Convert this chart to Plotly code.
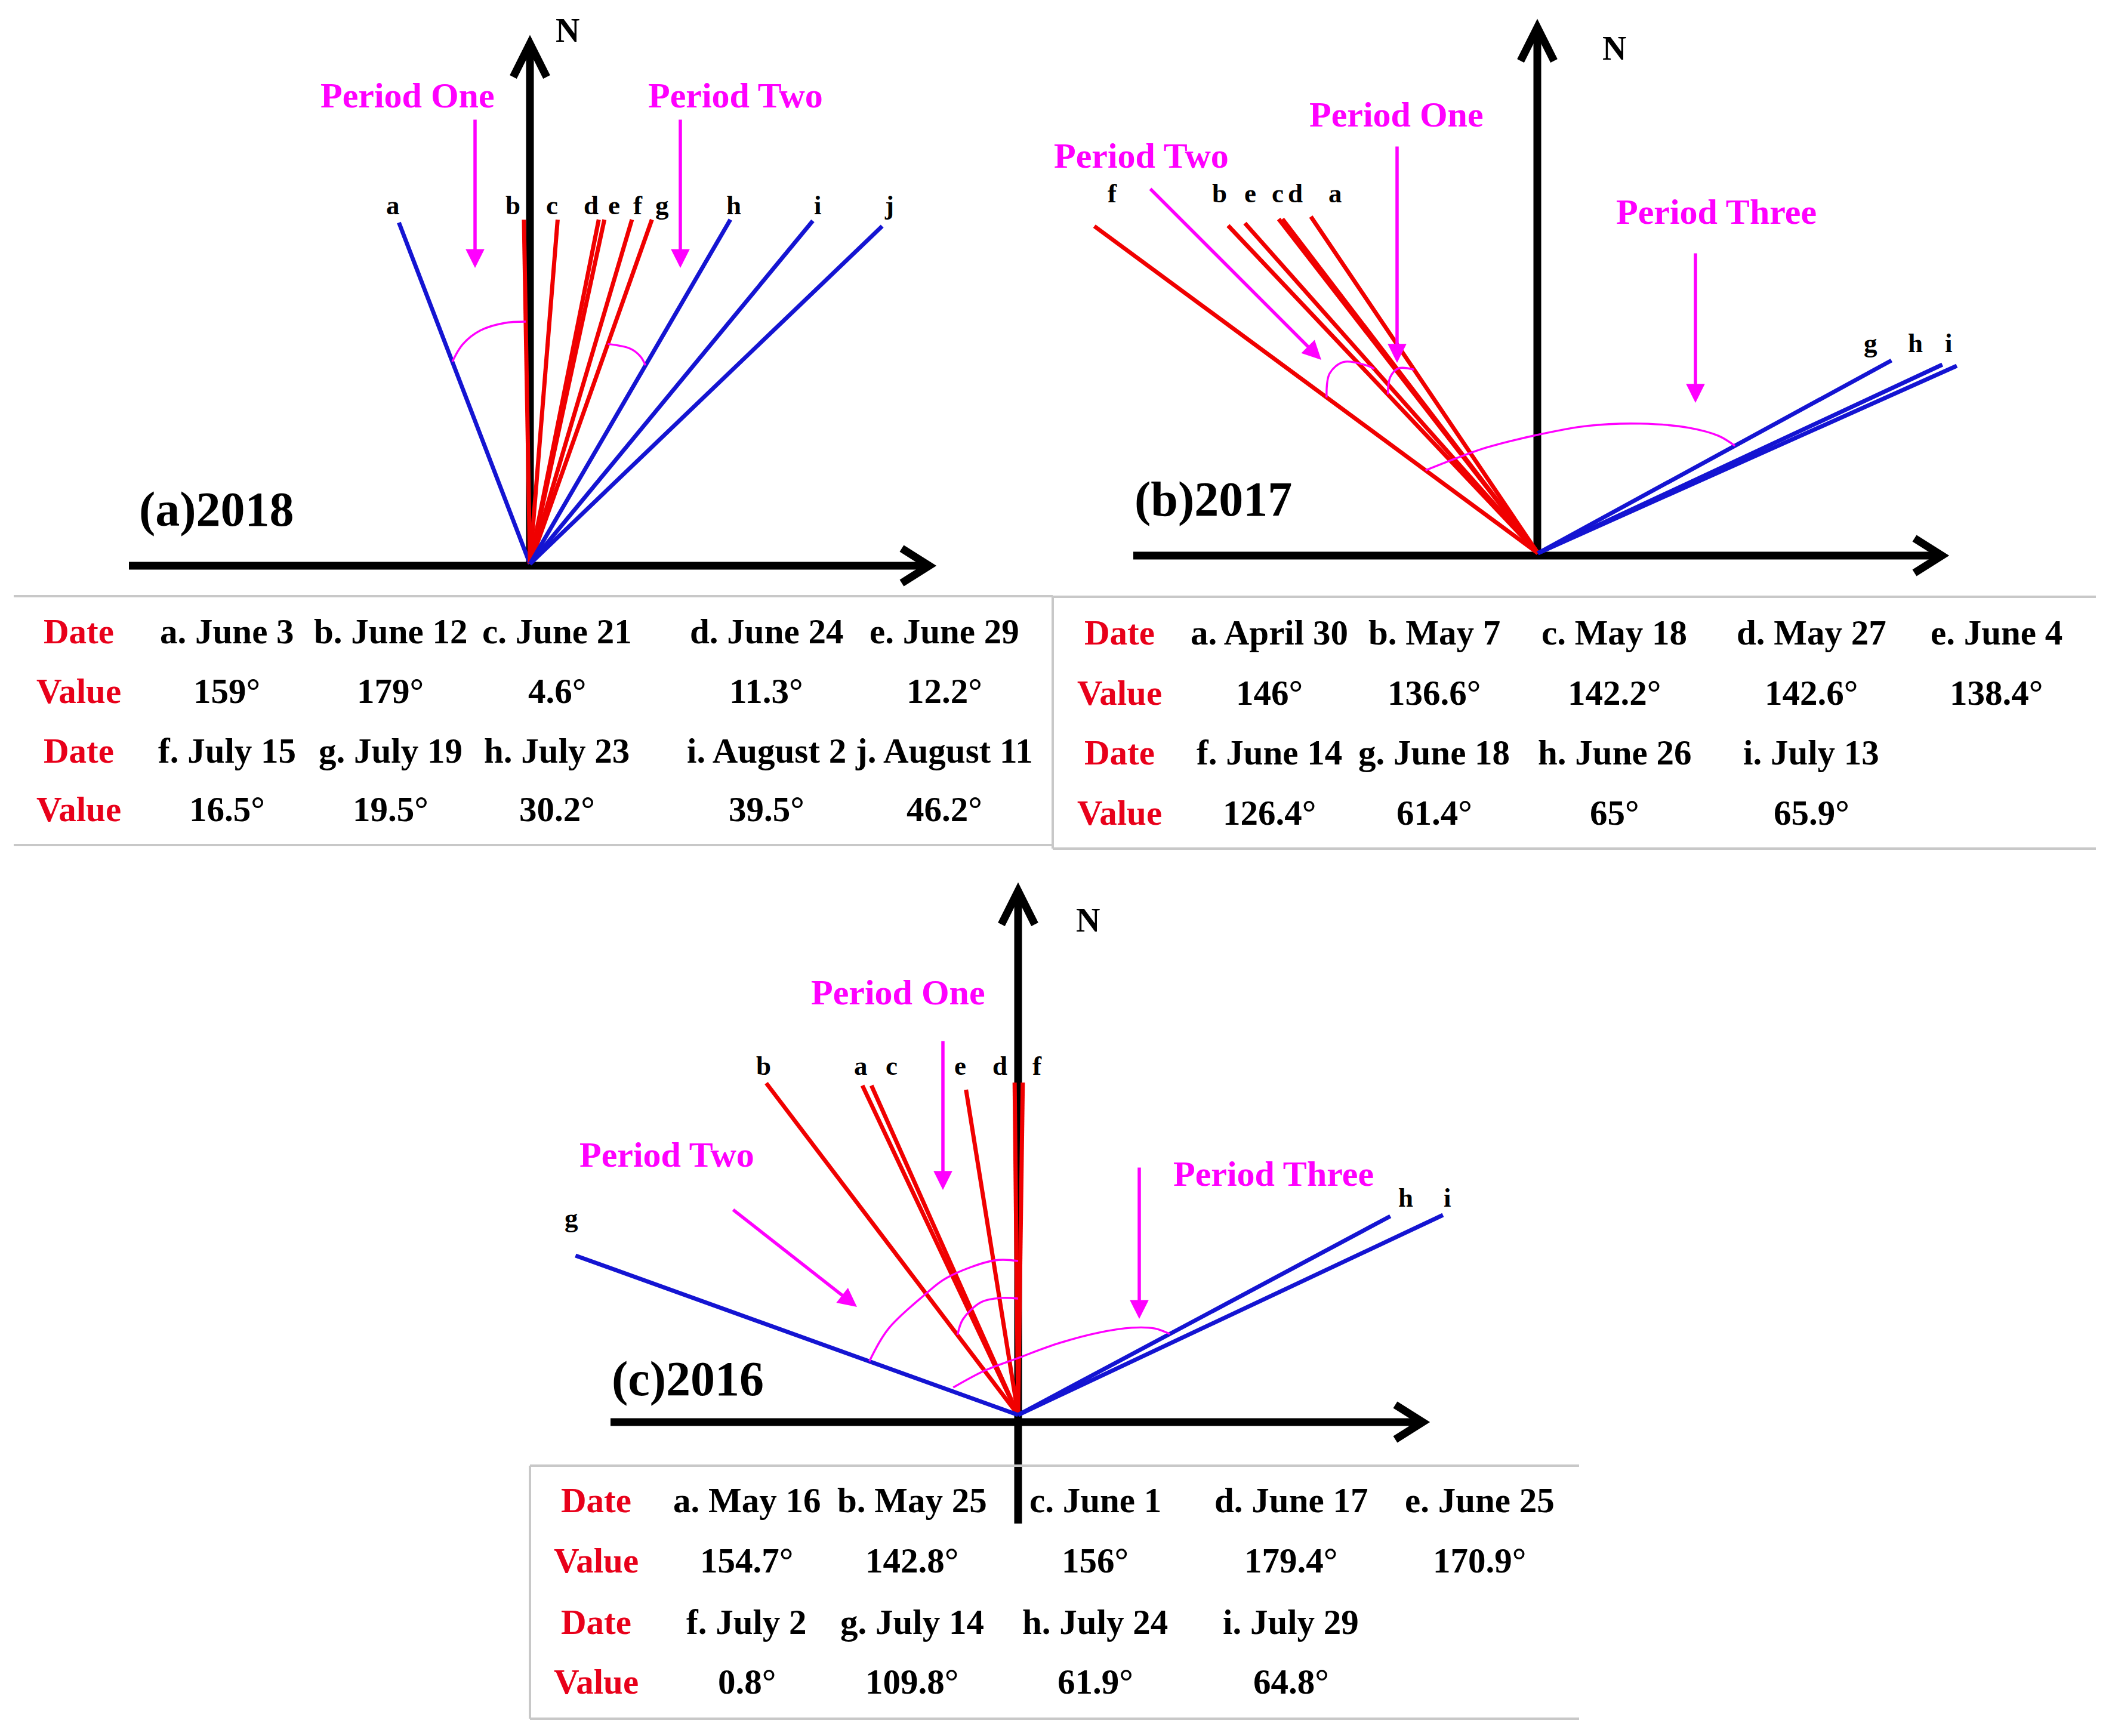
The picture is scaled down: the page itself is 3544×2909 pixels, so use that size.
import math
import plotly.graph_objects as go

W, H = 3544, 2909
PAGE_OFF = 8  # default page body margin of the html output

# ---------------- data ----------------
# (a) 2018
a_letters = ["a", "b", "c", "d", "e", "f", "g", "h", "i", "j"]
a_dates = ["June 3", "June 12", "June 21", "June 24", "June 29",
           "July 15", "July 19", "July 23", "August 2", "August 11"]
a_values = [159, 179, 4.6, 11.3, 12.2, 16.5, 19.5, 30.2, 39.5, 46.2]
a_group = ["blue", "red", "red", "red", "red", "red", "red", "blue", "blue", "blue"]

# (b) 2017
b_letters = ["a", "b", "c", "d", "e", "f", "g", "h", "i"]
b_dates = ["April 30", "May 7", "May 18", "May 27", "June 4",
           "June 14", "June 18", "June 26", "July 13"]
b_values = [146, 136.6, 142.2, 142.6, 138.4, 126.4, 61.4, 65, 65.9]
b_group = ["red", "red", "red", "red", "red", "red", "blue", "blue", "blue"]

# (c) 2016
c_letters = ["a", "b", "c", "d", "e", "f", "g", "h", "i"]
c_dates = ["May 16", "May 25", "June 1", "June 17", "June 25",
           "July 2", "July 14", "July 24", "July 29"]
c_values = [154.7, 142.8, 156, 179.4, 170.9, 0.8, 109.8, 61.9, 64.8]
c_group = ["red", "red", "red", "red", "red", "red", "blue", "blue", "blue"]

# ---------------- styles / layout ----------------
FONT = "Liberation Serif, Times New Roman, serif"
RED = "#f00000"
BLUE = "#1414d2"
MAG = "#ff00ff"
TRED = "#e8001a"
GRID = "#c8c8c8"
COLORS = {"red": RED, "blue": BLUE}

panels = [
    dict(title="(a)2018", letters=a_letters, dates=a_dates, values=a_values, group=a_group,
         origin=(888, 945),
         heights=[572, 577, 577, 577, 577, 577, 577, 577, 575, 566],
         label_x=[658, 859, 925, 990, 1029, 1069, 1109, 1229, 1370, 1490],
         label_y=[344] * 10,
         vaxis=(888, 73, 950), haxis=(948, 216, 1557),
         north=(951, 51), title_pos=(363, 853),
         periods=[("Period One", (683, 160), (796, 199), (796, 449)),
                  ("Period Two", (1232, 160), (1140, 199), (1140, 449))],
         arcs=[[(-21, 363), (-17, 385), (-12, 400), (-6, 406), (-1, 406)],
               [(19.5, 391), (25, 398), (28, 394), (30.2, 385)]],
         table=dict(left=23, right=1764, top=999, bottom=1416, sides="right",
                    label_x=132, cols=[380, 654, 933, 1284, 1582],
                    rows=[1058, 1158, 1258, 1356])),
    dict(title="(b)2017", letters=b_letters, dates=b_dates, values=b_values, group=b_group,
         origin=(2577, 927),
         heights=[564, 549, 560, 560, 553, 548, 323, 316, 314],
         label_x=[2237, 2043, 2141, 2170, 2095, 1864, 3134, 3209, 3265],
         label_y=[324, 324, 324, 324, 324, 324, 575, 575, 575],
         vaxis=(2576, 46, 936), haxis=(931, 1899, 3254),
         north=(2705, 81), title_pos=(2033, 836),
         periods=[("Period Two", (1912, 261), (1926, 315), (2214, 603)),
                  ("Period One", (2340, 192), (2341, 244), (2341, 608)),
                  ("Period Three", (2876, 355), (2841, 423), (2841, 675))],
         arcs=[[(-53.6, 440), (-49.2, 461), (-45.5, 457), (-42.3, 425), (-41.6, 413)],
               [(-43.4, 366), (-40, 385), (-37, 388), (-34, 371)],
               [(-53.6, 234), (-26.2, 197), (-0.6, 198), (21.3, 229), (38.4, 277),
                (50.3, 329), (57, 361), (61.4, 376)]],
         table=dict(left=1764, right=3512, top=1000, bottom=1422, sides="left",
                    label_x=1876, cols=[2127, 2403, 2705, 3035, 3345],
                    rows=[1060, 1161, 1261, 1362])),
    dict(title="(c)2016", letters=c_letters, dates=c_dates, values=c_values, group=c_group,
         origin=(1706, 2371),
         heights=[552, 556, 552, 557, 545, 557, 267, 333, 335],
         label_x=[1442, 1279, 1494, 1675, 1609, 1738, 957, 2355, 2425],
         label_y=[1786, 1786, 1786, 1786, 1786, 1786, 2041, 2007, 2007],
         vaxis=(1706, 1493, 2553), haxis=(2383, 1023, 2384),
         north=(1823, 1542), title_pos=(1152, 2310),
         periods=[("Period One", (1505, 1663), (1580, 1743), (1580, 1994)),
                  ("Period Two", (1117, 1935), (1227, 2026), (1436, 2190)),
                  ("Period Three", (2134, 1967), (1909, 1955), (1909, 2210))],
         arcs=[[(-70.2, 265), (-56.6, 261), (-38, 255), (-27.6, 259), (-8.7, 262), (0, 258)],
               [(-37.2, 168), (-30, 185), (-18, 199), (-8, 198), (0, 195)],
               [(-67.1, 118), (-37.1, 93), (-0.6, 95), (28.3, 135), (44.2, 192),
                (52.5, 240), (57.7, 271), (61.9, 288)]],
         table=dict(left=888, right=2646, top=2456, bottom=2880, sides="left",
                    label_x=999, cols=[1251, 1528, 1835, 2163, 2479],
                    rows=[2514, 2615, 2718, 2818])),
]


def bearing(v):
    """Axial orientation (0-180 deg) drawn clockwise from north."""
    return v if v <= 90 else v - 180


def polar(origin, b_deg, r):
    ox, oy = origin
    t = math.radians(b_deg)
    return ox + r * math.sin(t), oy - r * math.cos(t)


fig = go.Figure()
shapes = []
annotations = []


def add_text(x, y, s, size, color="black", bold=True):
    annotations.append(dict(
        x=x, y=y, xref="x", yref="y", showarrow=False,
        text=f"<b>{s}</b>" if bold else s,
        font=dict(family=FONT, size=size, color=color),
        xanchor="center", yanchor="middle"))


def seg(x0, y0, x1, y1, color, width, layer="below"):
    shapes.append(dict(type="line", xref="x", yref="y", x0=x0, y0=y0, x1=x1, y1=y1,
                       line=dict(color=color, width=width), layer=layer))


for p in panels:
    ox, oy = p["origin"]
    # axes with chevron heads
    vx, vtop, vbot = p["vaxis"]
    hy, hl, hr = p["haxis"]
    seg(vx, vtop + 6, vx, vbot, "black", 13)
    seg(hl, hy, hr - 6, hy, "black", 13)
    shapes.append(dict(type="path", xref="x", yref="y", layer="below",
                       path=f"M {vx-28},{vtop+56} L {vx},{vtop} L {vx+28},{vtop+56}",
                       line=dict(color="black", width=13)))
    shapes.append(dict(type="path", xref="x", yref="y", layer="below",
                       path=f"M {hr-46},{hy-29} L {hr},{hy} L {hr-46},{hy+29}",
                       line=dict(color="black", width=13)))
    add_text(p["north"][0], p["north"][1], "N", 56)
    add_text(p["title_pos"][0], p["title_pos"][1], p["title"], 82)

    # direction vectors
    for k, v in enumerate(p["values"]):
        bdeg = bearing(v)
        hh = p["heights"][k]
        ex = ox + hh * math.tan(math.radians(bdeg))
        ey = oy - hh
        fig.add_trace(go.Scatter(x=[ox, ex], y=[oy, ey], mode="lines",
                                 line=dict(color=COLORS[p["group"][k]], width=7),
                                 hoverinfo="skip", showlegend=False))
        add_text(p["label_x"][k], p["label_y"][k], p["letters"][k], 45)

    # angle arcs
    for arc in p["arcs"]:
        pts = [polar(p["origin"], b, r) for b, r in arc]
        fig.add_trace(go.Scatter(x=[q[0] for q in pts], y=[q[1] for q in pts],
                                 mode="lines", line=dict(color=MAG, width=3.4, shape="spline"),
                                 hoverinfo="skip", showlegend=False))

    # period labels with arrows
    for name, tpos, tail, head in p["periods"]:
        add_text(tpos[0], tpos[1], name, 60, MAG)
        annotations.append(dict(x=head[0], y=head[1], ax=tail[0], ay=tail[1],
                                xref="x", yref="y", axref="x", ayref="y", text="",
                                showarrow=True, arrowhead=2, arrowsize=1.15,
                                arrowwidth=5.5, arrowcolor=MAG))

    # table
    t = p["table"]
    seg(t["left"], t["top"], t["right"], t["top"], GRID, 4)
    seg(t["left"], t["bottom"], t["right"], t["bottom"], GRID, 4)
    sx = t["right"] if t["sides"] == "right" else t["left"]
    seg(sx, t["top"], sx, t["bottom"], GRID, 4)
    n = len(p["values"])
    for r in range(4):
        add_text(t["label_x"], t["rows"][r], "Date" if r % 2 == 0 else "Value", 59, TRED)
    for k in range(n):
        row = 0 if k < 5 else 2
        col = k % 5
        add_text(t["cols"][col], t["rows"][row], f"{p['letters'][k]}. {p['dates'][k]}", 59)
        add_text(t["cols"][col], t["rows"][row + 1], f"{p['values'][k]:g}°", 59)

fig.update_layout(
    width=W, height=H,
    margin=dict(l=0, r=0, t=0, b=0),
    paper_bgcolor="white", plot_bgcolor="white",
    xaxis=dict(range=[PAGE_OFF, W + PAGE_OFF], visible=False, fixedrange=True),
    yaxis=dict(range=[H + PAGE_OFF, PAGE_OFF], visible=False, fixedrange=True),
    shapes=shapes, annotations=annotations, showlegend=False,
)
fig.write_html("out.html")
